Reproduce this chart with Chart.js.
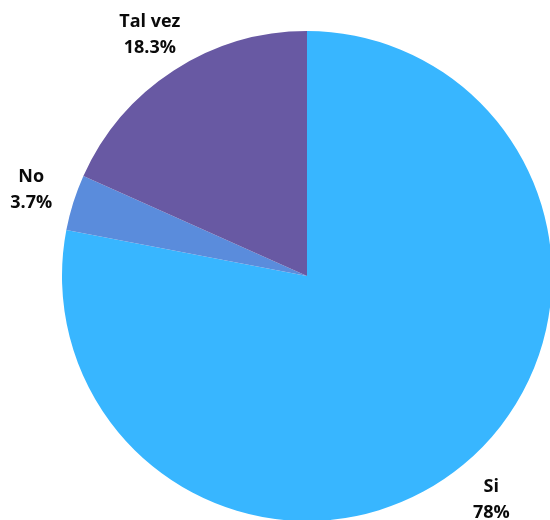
<!DOCTYPE html>
<html>
<head>
<meta charset="utf-8">
<script src="https://cdn.jsdelivr.net/npm/chart.js@4/dist/chart.umd.min.js"></script>
<style>
  html, body { margin: 0; padding: 0; background: #fff; overflow: hidden; }
  canvas { display: block; }
</style>
</head>
<body>
<canvas id="pie" width="550" height="520"></canvas>
<script>
var labels = ['Si', 'No', 'Tal vez'];
var values = [78, 3.7, 18.3];
var sliceColors = ['#38b6ff', '#5a8cdc', '#6859a3'];

// draws "name\nvalue%" outside each slice
var outsideLabels = {
    id: 'outsideLabels',
    afterDatasetsDraw: function(chart) {
        var ctx = chart.ctx;
        var meta = chart.getDatasetMeta(0);
        ctx.save();
        ctx.fillStyle = '#0a0a0a';
        ctx.font = 'bold 18px "Open Sans", sans-serif';
        ctx.textAlign = 'center';
        ctx.textBaseline = 'middle';
        meta.data.forEach(function(arc, i) {
            var mid = (arc.startAngle + arc.endAngle) / 2;
            var r = arc.outerRadius * 1.18;
            var x = arc.x + Math.cos(mid) * r;
            var y = arc.y + Math.sin(mid) * r;
            ctx.fillText(labels[i], x, y - 12);
            ctx.fillText(values[i] + '%', x, y + 14);
        });
        ctx.restore();
    }
};

new Chart(document.getElementById('pie'), {
    type: 'pie',
    data: {
        labels: labels,
        datasets: [{
            data: values,
            backgroundColor: sliceColors,
            borderWidth: 0,
            radius: 245
        }]
    },
    options: {
        responsive: false,
        animation: false,
        layout: { padding: { left: 64, right: 0, top: 32, bottom: 0 } },
        plugins: {
            legend: { display: false },
            tooltip: { enabled: false }
        }
    },
    plugins: [outsideLabels]
});
</script>
</body>
</html>
